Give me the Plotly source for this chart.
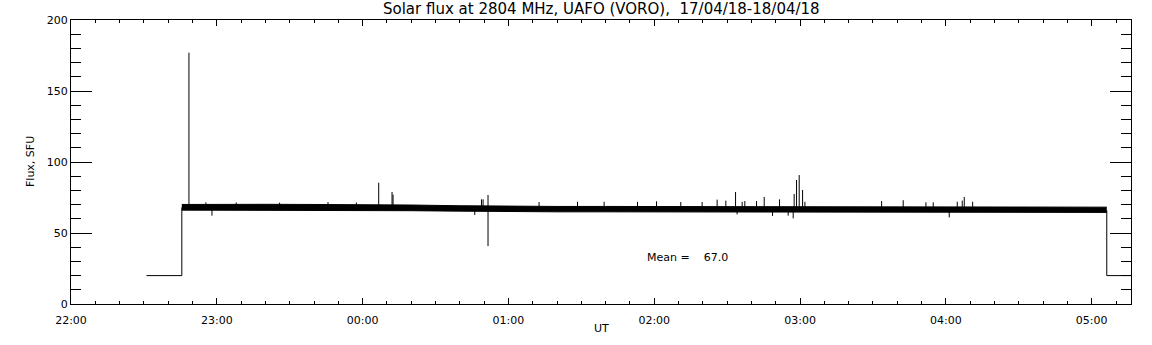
import plotly.graph_objects as go
from datetime import datetime

# ---------------- data ----------------
# quiet level before/after the observation (time, flux)
lead_time = ["22:31:05", "22:45:36", "22:45:36"]
lead_flux = [20, 20, 68]
tail_time = ["05:06:12", "05:06:12", "05:17:00"]
tail_flux = [66, 20, 20]

# envelope of the noisy flux band
band_time = ["22:45:36", "23:00", "23:20", "23:40", "00:00", "00:20", "00:40",
             "01:00", "01:20", "01:40", "02:00", "02:20", "02:40", "03:00",
             "03:20", "03:40", "04:00", "04:20", "04:40", "05:00", "05:06:12"]
band_upper = [70.1, 70.3, 70.2, 70.1, 70.0, 69.7, 69.2, 68.8, 68.7, 68.7, 68.7,
              68.6, 68.5, 68.5, 68.4, 68.3, 68.3, 68.2, 68.2, 68.2, 68.2]
band_lower = [66.1, 66.1, 66.0, 66.0, 65.9, 65.7, 65.4, 65.0, 64.9, 64.9, 64.9,
              64.8, 64.7, 64.6, 64.6, 64.6, 64.5, 64.5, 64.5, 64.5, 64.5]

# bursts / spikes and dips: (time, low end, high end)
spike_time = ["22:48:32", "22:55:30", "22:58:00", "23:08:00", "23:25:50", "23:45:45",
              "23:57:25", "00:06:37", "00:12:06", "00:12:31",
              "00:46:08", "00:48:54", "00:49:34", "00:51:36", "01:12:36", "01:28:25",
              "01:39:22", "01:53:06", "02:00:56", "02:10:55", "02:19:42", "02:25:52",
              "02:29:27", "02:33:27", "02:34:05", "02:36:10", "02:37:16", "02:42:05",
              "02:45:14", "02:48:40", "02:51:33", "02:55:06", "02:57:10", "02:57:34",
              "02:58:33", "02:59:38", "03:01:02", "03:01:59", "03:33:33", "03:42:26",
              "03:51:47", "03:54:47", "04:01:22", "04:04:40", "04:06:43", "04:07:33",
              "04:11:00"]
spike_lo = [67, 67, 62.2, 67, 67, 67,
            67, 67, 67, 67,
            62.7, 67, 67, 40.8, 66, 66,
            66, 66, 66, 66, 66, 66,
            66, 66, 63.1, 66, 66, 66,
            66, 62.0, 66, 62.2, 60.3, 66,
            66, 66, 66, 66, 66, 66,
            66, 66, 61.0, 66, 66, 66,
            66]
spike_hi = [177, 71.6, 67, 71.5, 71.4, 71.8,
            71.5, 85.4, 78.9, 77.0,
            67, 73.7, 73.7, 76.8, 71.8, 72.0,
            72.0, 72.0, 72.3, 71.8, 71.8, 73.5,
            72.8, 78.9, 67, 72.0, 72.5, 72.5,
            75.4, 67, 73.7, 67, 67, 77.5,
            87.3, 90.8, 80.3, 72.0, 72.5, 73.1,
            71.6, 71.6, 67, 72.0, 72.8, 75.4,
            72.0]

mean_flux = 67.0
title_text = "Solar flux at 2804 MHz, UAFO (VORO),  17/04/18-18/04/18"
x_range = ["22:00:00", "05:16:10"]
y_range = [0, 200]


def to_dt(s):
    parts = [int(p) for p in s.split(":")]
    while len(parts) < 3:
        parts.append(0)
    h, m, sec = parts
    day = 17 if h >= 12 else 18
    return datetime(2018, 4, day, h, m, sec)


FONT = "DejaVu Sans"
fig = go.Figure()

line = dict(color="black", width=1)
fig.add_trace(go.Scatter(x=[to_dt(t) for t in lead_time], y=lead_flux, mode="lines",
                         line=line, showlegend=False, hoverinfo="skip"))
fig.add_trace(go.Scatter(x=[to_dt(t) for t in tail_time], y=tail_flux, mode="lines",
                         line=line, showlegend=False, hoverinfo="skip"))

bt = [to_dt(t) for t in band_time]
fig.add_trace(go.Scatter(x=bt, y=band_upper, mode="lines", line=line,
                         showlegend=False, hoverinfo="skip"))
fig.add_trace(go.Scatter(x=bt, y=band_lower, mode="lines", line=line,
                         fill="tonexty", fillcolor="black",
                         showlegend=False, hoverinfo="skip"))

sx, sy = [], []
for t, lo, hi in zip(spike_time, spike_lo, spike_hi):
    d = to_dt(t)
    sx += [d, d, None]
    sy += [lo, hi, None]
fig.add_trace(go.Scatter(x=sx, y=sy, mode="lines", line=dict(color="black", width=1),
                         showlegend=False, hoverinfo="skip", connectgaps=False))

axis_common = dict(showline=True, linecolor="black", linewidth=1, mirror="ticks",
                   ticks="inside", tickcolor="black", tickwidth=1, showgrid=False,
                   zeroline=False, tickfont=dict(family=FONT, size=11, color="black"))

fig.update_xaxes(type="date", range=[to_dt(x_range[0]), to_dt(x_range[1])],
                 tickformat="%H:%M", dtick=3600000, tick0=to_dt("22:00"),
                 ticklen=6, ticklabelstandoff=6,
                 minor=dict(dtick=600000, ticks="inside", ticklen=3, tickcolor="black",
                            showgrid=False),
                 **axis_common)
fig.update_yaxes(range=y_range, dtick=50, ticklen=21,
                 minor=dict(dtick=10, ticks="inside", ticklen=10, tickcolor="black",
                            showgrid=False),
                 **axis_common)

ann_font = dict(family=FONT, size=11, color="black")
fig.add_annotation(text=title_text, xref="paper", yref="paper", x=0.5, y=1.0,
                   yshift=11, xanchor="center", yanchor="middle", showarrow=False,
                   font=dict(family=FONT, size=15, color="black"))
fig.add_annotation(text="Flux, SFU", xref="paper", yref="paper", x=0, xshift=-41,
                   y=0.5, textangle=-90, xanchor="center", yanchor="middle",
                   showarrow=False, font=ann_font)
fig.add_annotation(text="UT", xref="paper", yref="paper", x=0.5, y=0, yshift=-24,
                   xanchor="center", yanchor="middle", showarrow=False, font=ann_font)
fig.add_annotation(text="Mean =\u00a0\u00a0\u00a0\u00a0%.1f" % mean_flux, xref="x", yref="y",
                   x=to_dt("01:56:10"), y=33, xanchor="left", yanchor="middle",
                   showarrow=False, font=ann_font)

fig.update_layout(width=1152, height=345, paper_bgcolor="white", plot_bgcolor="white",
                  margin=dict(l=71, r=21, t=20, b=41), showlegend=False)

fig.write_html("out.html", config={"displayModeBar": False},
               post_script="document.body.style.margin='0';document.body.style.overflow='hidden';")
